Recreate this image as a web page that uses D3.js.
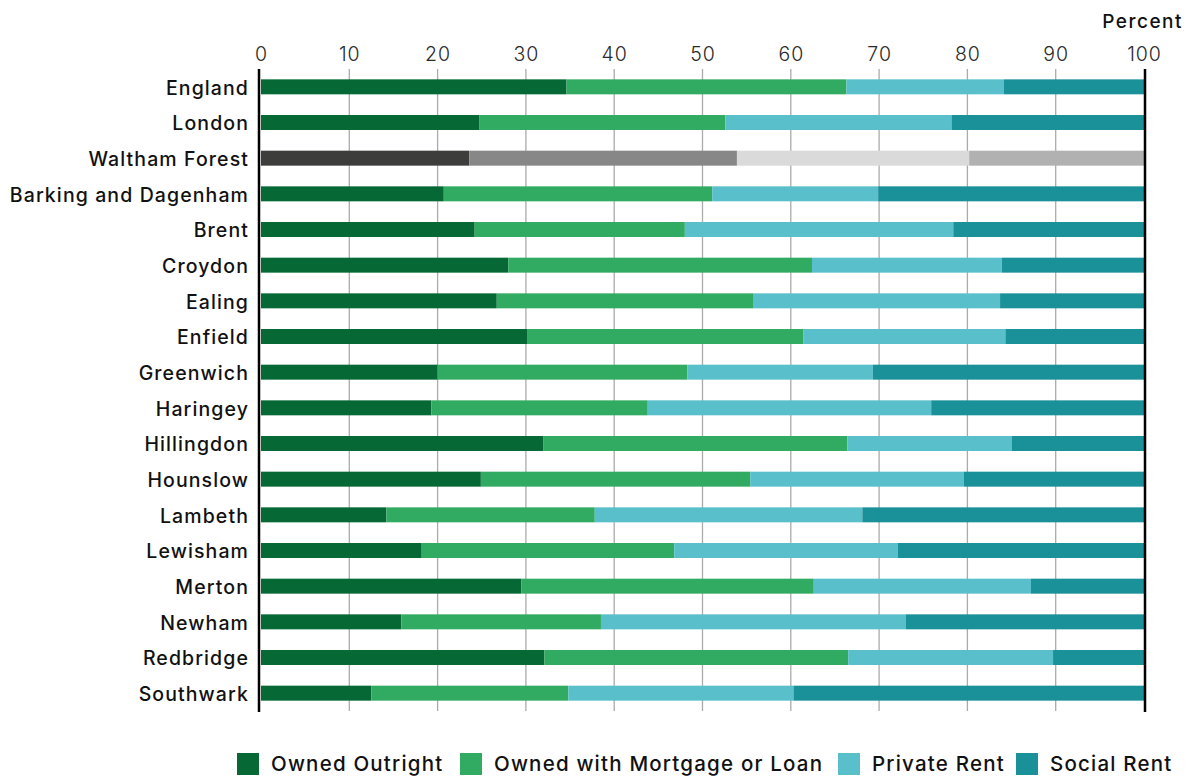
<!DOCTYPE html>
<html><head><meta charset="utf-8">
<script src="https://cdn.jsdelivr.net/npm/d3@7"></script>
<style>
body{margin:0;background:#fff;}
svg text{font-family:Inter,"Open Sans",sans-serif;}
</style></head>
<body><svg id="c" width="1194" height="776"></svg>
<script>
const categories = ["England","London","Waltham Forest","Barking and Dagenham","Brent","Croydon","Ealing","Enfield","Greenwich","Haringey","Hillingdon","Hounslow","Lambeth","Lewisham","Merton","Newham","Redbridge","Southwark"];
const seriesNames = ["Owned Outright","Owned with Mortgage or Loan","Private Rent","Social Rent"];
const ownedOutright = [34.6,24.7,23.6,20.7,24.2,28.0,26.7,30.2,20.0,19.3,32.0,24.9,14.2,18.2,29.5,15.9,32.1,12.5];
const ownedMortgage = [31.7,27.9,30.3,30.4,23.8,34.4,29.1,31.2,28.3,24.5,34.4,30.5,23.6,28.6,33.1,22.6,34.4,22.3];
const privateRent  = [17.8,25.6,26.3,18.8,30.4,21.5,27.9,22.9,21.0,32.1,18.6,24.2,30.3,25.3,24.6,34.5,23.2,25.5];
const socialRent   = [15.9,21.8,19.8,30.1,21.6,16.1,16.3,15.7,30.7,24.1,15.0,20.4,31.9,27.9,12.8,27.0,10.3,39.7];
const xTicks = [0,10,20,30,40,50,60,70,80,90,100];
const axisTitle = "Percent";
const highlight = "Waltham Forest";

const colors = ["#066835","#31ab62","#59bfca","#1a9199"];
const greys  = ["#3d3d3b","#878787","#dadada","#b1b1b1"];

const svg = d3.select("#c");
const x = d3.scaleLinear().domain([0,100]).range([261,1144]);
const y = d3.scaleBand().domain(categories).range([69,711]).paddingInner(0.58).paddingOuter(0.29);

const rows = categories.map((c,i)=>({cat:c, vals:[ownedOutright[i],ownedMortgage[i],privateRent[i],socialRent[i]]}));
const stacked = rows.map(r=>{
  let acc=0; const tot=d3.sum(r.vals);
  return r.vals.map((v,k)=>{const s=acc/tot*100; acc+=v; return {cat:r.cat,k,x0:s,x1:acc/tot*100};});
});

// gridlines
svg.append("g").selectAll("line").data(xTicks.filter(t=>t>0&&t<100)).join("line")
  .attr("x1",d=>x(d)).attr("x2",d=>x(d)).attr("y1",69).attr("y2",711)
  .attr("stroke","#ababab").attr("stroke-width",1.3);

// top axis
const ax = svg.append("g").attr("transform","translate(0,69)")
  .call(d3.axisTop(x).tickValues(xTicks).tickSize(0).tickPadding(8).tickFormat(d3.format("d")));
ax.select(".domain").remove();
ax.selectAll("text").attr("font-size",19.5).attr("fill","#2a2a2a").attr("font-weight",300)
  .attr("letter-spacing",1).attr("dy",0);

svg.append("text").attr("x",1183).attr("y",28).attr("text-anchor","end")
  .attr("font-size",19).attr("font-weight",500).attr("letter-spacing",1.5).attr("fill","#111").text(axisTitle);

// bars
svg.append("g").selectAll("g").data(stacked).join("g").selectAll("rect").data(d=>d).join("rect")
  .attr("x",d=>x(d.x0)).attr("width",d=>x(d.x1)-x(d.x0))
  .attr("y",d=>y(d.cat)).attr("height",y.bandwidth())
  .attr("fill",d=>d.cat===highlight?greys[d.k]:colors[d.k]);

// axis lines
svg.append("line").attr("x1",259).attr("x2",259).attr("y1",69).attr("y2",712).attr("stroke","#000").attr("stroke-width",2.5);
svg.append("line").attr("x1",1145).attr("x2",1145).attr("y1",69).attr("y2",712).attr("stroke","#000").attr("stroke-width",2.5);

// category labels
svg.append("g").selectAll("text").data(categories).join("text")
  .attr("x",249).attr("y",d=>y(d)+y.bandwidth()/2).attr("dy","0.4em")
  .attr("text-anchor","end").attr("font-size",19.5).attr("font-weight",500).attr("letter-spacing",1.1).attr("fill","#111")
  .text(d=>d);

// legend
const legX = [237,460,838,1016];
const lg = svg.append("g").selectAll("g").data(seriesNames).join("g")
  .attr("transform",(d,i)=>`translate(${legX[i]},753)`);
lg.append("rect").attr("width",22).attr("height",22).attr("fill",(d,i)=>colors[i]);
lg.append("text").attr("x",34).attr("y",11).attr("dy","0.36em").attr("font-size",20.5).attr("font-weight",500)
  .attr("letter-spacing",1.2).attr("fill","#111").text(d=>d);
</script></body></html>
